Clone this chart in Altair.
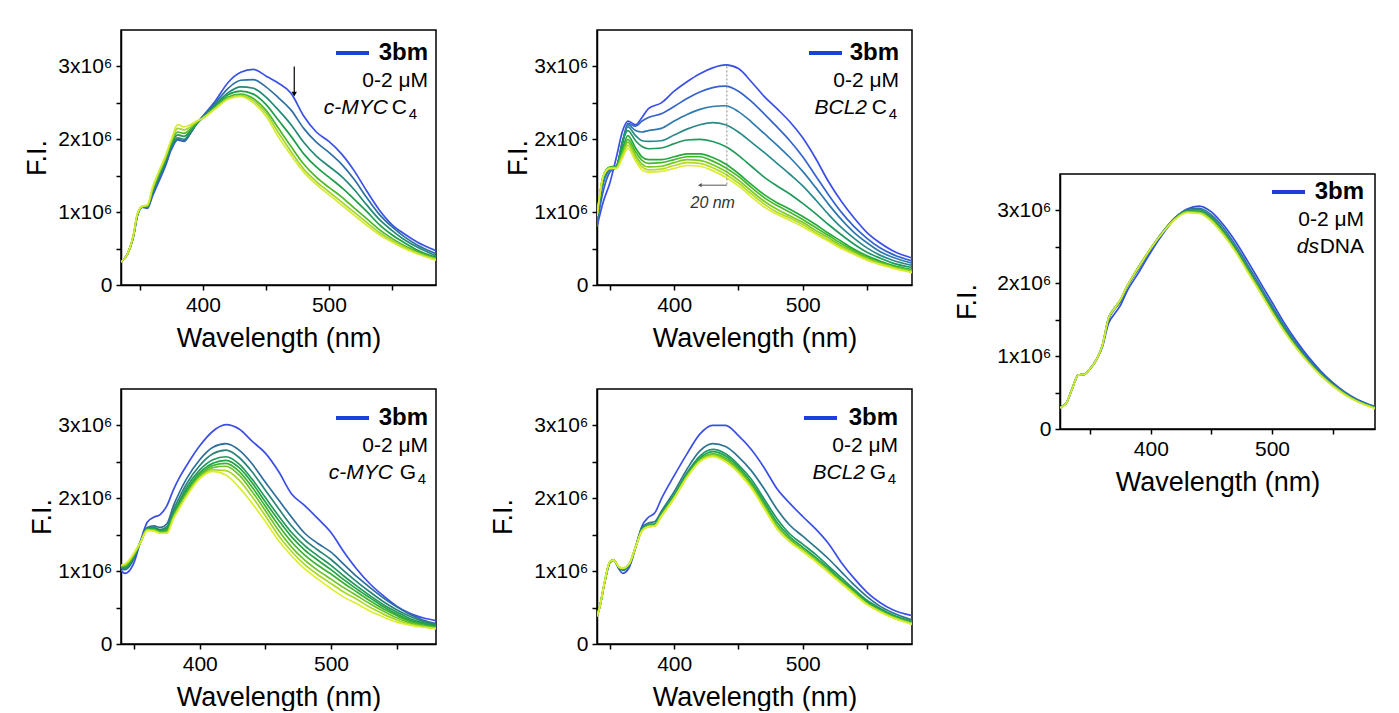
import altair as alt
import pandas as pd

FONT = "Liberation Sans"

# ---------------- data (F.I. in units of 1e6) ----------------
wl_myc_c4 = [335, 340, 345, 348, 352, 356, 360, 365, 370, 375, 380, 385, 390, 395, 400, 410, 420, 430,
             440, 450, 460, 470, 480, 490, 500, 510, 520, 530, 540, 550, 560, 570, 585]
myc_c4_1 = [0.32, 0.42, 0.68, 0.95, 1.07, 1.05, 1.22, 1.42, 1.62, 1.86, 1.99, 1.97, 2.08, 2.22, 2.32, 2.53, 2.78, 2.92,
            2.96, 2.87, 2.77, 2.63, 2.32, 2.10, 1.97, 1.80, 1.57, 1.29, 1.03, 0.83, 0.70, 0.59, 0.47]
myc_c4_2 = [0.32, 0.42, 0.68, 0.95, 1.07, 1.06, 1.25, 1.45, 1.65, 1.88, 2.00, 1.98, 2.08, 2.21, 2.31, 2.50, 2.70, 2.81,
            2.82, 2.72, 2.57, 2.40, 2.15, 1.96, 1.82, 1.66, 1.45, 1.20, 0.97, 0.80, 0.66, 0.55, 0.43]
myc_c4_3 = [0.32, 0.42, 0.68, 0.96, 1.07, 1.07, 1.27, 1.48, 1.68, 1.91, 2.02, 2.00, 2.09, 2.21, 2.30, 2.48, 2.64, 2.72,
            2.70, 2.58, 2.40, 2.20, 1.96, 1.77, 1.63, 1.49, 1.31, 1.10, 0.90, 0.75, 0.62, 0.52, 0.40]
myc_c4_4 = [0.32, 0.42, 0.69, 0.96, 1.07, 1.08, 1.29, 1.50, 1.70, 1.93, 2.06, 2.04, 2.11, 2.22, 2.30, 2.46, 2.61, 2.66,
            2.62, 2.48, 2.26, 2.04, 1.80, 1.62, 1.48, 1.34, 1.18, 1.01, 0.83, 0.69, 0.58, 0.48, 0.38]
myc_c4_5 = [0.32, 0.42, 0.69, 0.97, 1.08, 1.09, 1.31, 1.52, 1.72, 1.96, 2.10, 2.08, 2.14, 2.23, 2.29, 2.44, 2.58, 2.62,
            2.56, 2.40, 2.15, 1.90, 1.66, 1.48, 1.34, 1.21, 1.06, 0.91, 0.76, 0.64, 0.54, 0.46, 0.36]
myc_c4_6 = [0.32, 0.42, 0.70, 0.97, 1.08, 1.09, 1.32, 1.54, 1.74, 1.98, 2.15, 2.13, 2.17, 2.24, 2.29, 2.43, 2.56, 2.60,
            2.53, 2.36, 2.09, 1.83, 1.59, 1.42, 1.28, 1.14, 1.00, 0.86, 0.72, 0.61, 0.52, 0.44, 0.35]
myc_c4_7 = [0.32, 0.42, 0.70, 0.98, 1.08, 1.10, 1.34, 1.56, 1.76, 2.00, 2.20, 2.17, 2.20, 2.25, 2.29, 2.42, 2.55, 2.59,
            2.50, 2.32, 2.03, 1.78, 1.55, 1.38, 1.24, 1.10, 0.96, 0.82, 0.69, 0.59, 0.50, 0.43, 0.34]

wl_bcl_c4 = [340, 345, 350, 355, 360, 364, 370, 375, 380, 390, 400, 410, 420, 430, 440, 450, 460, 470, 480, 490,
             500, 510, 520, 530, 540, 550, 560, 570, 585]
bcl_c4_1 = [0.80, 1.15, 1.40, 1.75, 2.12, 2.25, 2.20, 2.30, 2.42, 2.50, 2.66, 2.79, 2.90, 2.98, 3.02, 2.97, 2.79, 2.59,
            2.42, 2.24, 2.02, 1.74, 1.42, 1.15, 0.92, 0.72, 0.58, 0.47, 0.37]
bcl_c4_2 = [0.85, 1.30, 1.55, 1.62, 1.95, 2.22, 2.18, 2.25, 2.30, 2.35, 2.45, 2.56, 2.65, 2.71, 2.73, 2.66, 2.52, 2.35,
            2.17, 1.98, 1.76, 1.50, 1.24, 1.00, 0.80, 0.64, 0.51, 0.42, 0.33]
bcl_c4_3 = [0.88, 1.40, 1.58, 1.62, 1.98, 2.20, 2.12, 2.10, 2.12, 2.15, 2.25, 2.34, 2.41, 2.45, 2.46, 2.38, 2.24, 2.08,
            1.92, 1.75, 1.56, 1.34, 1.11, 0.90, 0.72, 0.58, 0.46, 0.38, 0.30]
bcl_c4_4 = [0.90, 1.45, 1.60, 1.63, 1.98, 2.17, 2.05, 1.98, 1.97, 1.98, 2.06, 2.14, 2.20, 2.23, 2.20, 2.10, 1.96, 1.82,
            1.67, 1.52, 1.36, 1.17, 0.97, 0.79, 0.64, 0.51, 0.41, 0.34, 0.27]
bcl_c4_5 = [0.92, 1.50, 1.62, 1.63, 1.98, 2.12, 1.98, 1.90, 1.87, 1.88, 1.94, 1.99, 2.00, 1.97, 1.90, 1.78, 1.63, 1.48,
            1.36, 1.25, 1.12, 0.98, 0.83, 0.69, 0.56, 0.45, 0.37, 0.30, 0.24]
bcl_c4_6 = [0.93, 1.50, 1.62, 1.63, 1.88, 2.05, 1.88, 1.76, 1.72, 1.72, 1.76, 1.80, 1.80, 1.75, 1.66, 1.53, 1.38, 1.24,
            1.13, 1.04, 0.94, 0.83, 0.71, 0.60, 0.49, 0.40, 0.33, 0.27, 0.21]
bcl_c4_7 = [0.94, 1.50, 1.61, 1.62, 1.84, 2.00, 1.83, 1.71, 1.67, 1.68, 1.72, 1.76, 1.76, 1.70, 1.61, 1.49, 1.34, 1.20,
            1.09, 1.00, 0.90, 0.79, 0.68, 0.57, 0.47, 0.38, 0.31, 0.26, 0.20]
bcl_c4_8 = [0.94, 1.50, 1.61, 1.61, 1.81, 1.96, 1.78, 1.66, 1.62, 1.63, 1.68, 1.72, 1.71, 1.65, 1.56, 1.44, 1.29, 1.15,
            1.04, 0.95, 0.86, 0.75, 0.65, 0.54, 0.45, 0.37, 0.30, 0.25, 0.19]
bcl_c4_9 = [0.95, 1.50, 1.60, 1.60, 1.78, 1.92, 1.74, 1.62, 1.58, 1.59, 1.64, 1.68, 1.67, 1.61, 1.52, 1.40, 1.25, 1.11,
            1.00, 0.92, 0.83, 0.72, 0.62, 0.52, 0.43, 0.35, 0.29, 0.24, 0.18]
bcl_c4_10 = [0.95, 1.50, 1.60, 1.60, 1.75, 1.88, 1.70, 1.58, 1.55, 1.56, 1.60, 1.64, 1.63, 1.57, 1.48, 1.36, 1.21, 1.07,
             0.97, 0.89, 0.80, 0.70, 0.60, 0.50, 0.42, 0.34, 0.28, 0.23, 0.17]

wl_ds = [325, 330, 335, 340, 345, 350, 355, 360, 365, 370, 375, 380, 390, 400, 410, 420, 430, 440, 450, 460,
         470, 480, 490, 500, 510, 520, 530, 540, 550, 560, 570, 585]
ds_1 = [0.30, 0.35, 0.55, 0.74, 0.75, 0.83, 0.95, 1.13, 1.45, 1.58, 1.70, 1.88, 2.15, 2.43, 2.68, 2.89, 3.02, 3.06,
        2.98, 2.80, 2.57, 2.30, 2.02, 1.74, 1.46, 1.21, 0.99, 0.80, 0.64, 0.51, 0.41, 0.31]
ds_2 = [0.30, 0.35, 0.55, 0.74, 0.75, 0.83, 0.95, 1.14, 1.50, 1.64, 1.75, 1.93, 2.20, 2.46, 2.70, 2.90, 3.01, 3.03,
        2.94, 2.76, 2.52, 2.25, 1.97, 1.69, 1.42, 1.18, 0.96, 0.78, 0.63, 0.50, 0.40, 0.30]
ds_3 = [0.30, 0.35, 0.55, 0.74, 0.75, 0.83, 0.95, 1.15, 1.52, 1.66, 1.77, 1.95, 2.22, 2.48, 2.71, 2.90, 3.00, 3.01,
        2.91, 2.72, 2.48, 2.21, 1.93, 1.66, 1.39, 1.15, 0.94, 0.76, 0.61, 0.49, 0.39, 0.30]
ds_4 = [0.30, 0.35, 0.55, 0.74, 0.75, 0.83, 0.95, 1.15, 1.52, 1.66, 1.78, 1.95, 2.23, 2.48, 2.71, 2.89, 2.99, 2.99,
        2.89, 2.70, 2.46, 2.19, 1.91, 1.63, 1.37, 1.13, 0.93, 0.75, 0.60, 0.48, 0.39, 0.29]
ds_5 = [0.29, 0.35, 0.55, 0.74, 0.75, 0.83, 0.95, 1.15, 1.52, 1.66, 1.78, 1.95, 2.23, 2.48, 2.70, 2.88, 2.98, 2.97,
        2.87, 2.68, 2.44, 2.17, 1.89, 1.61, 1.35, 1.12, 0.92, 0.74, 0.60, 0.48, 0.38, 0.29]
ds_6 = [0.29, 0.35, 0.55, 0.74, 0.75, 0.83, 0.95, 1.15, 1.52, 1.65, 1.78, 1.95, 2.22, 2.48, 2.70, 2.88, 2.97, 2.96,
        2.85, 2.66, 2.43, 2.15, 1.88, 1.60, 1.34, 1.11, 0.91, 0.74, 0.59, 0.47, 0.38, 0.28]

wl_myc_g4 = [340, 343, 347, 350, 355, 360, 365, 370, 375, 380, 385, 390, 400, 410, 420, 430, 440, 450, 460, 470,
             480, 490, 500, 510, 520, 530, 540, 550, 560, 570, 580]
myc_g4_1 = [1.01, 0.97, 1.02, 1.12, 1.42, 1.67, 1.74, 1.78, 1.90, 2.12, 2.30, 2.45, 2.72, 2.92, 3.01, 2.95, 2.78, 2.62,
            2.37, 2.06, 1.90, 1.72, 1.53, 1.26, 1.02, 0.82, 0.66, 0.52, 0.42, 0.36, 0.32]
myc_g4_2 = [1.04, 1.02, 1.08, 1.18, 1.41, 1.60, 1.62, 1.60, 1.65, 1.90, 2.10, 2.27, 2.53, 2.70, 2.75, 2.66, 2.47, 2.22,
            1.98, 1.74, 1.52, 1.38, 1.26, 1.09, 0.92, 0.77, 0.63, 0.51, 0.41, 0.33, 0.28]
myc_g4_3 = [1.05, 1.04, 1.10, 1.20, 1.41, 1.59, 1.60, 1.57, 1.61, 1.84, 2.03, 2.20, 2.45, 2.61, 2.66, 2.56, 2.36, 2.11,
            1.86, 1.62, 1.43, 1.29, 1.16, 1.00, 0.85, 0.71, 0.58, 0.47, 0.38, 0.31, 0.26]
myc_g4_4 = [1.06, 1.05, 1.12, 1.21, 1.41, 1.58, 1.59, 1.56, 1.59, 1.80, 1.98, 2.15, 2.39, 2.53, 2.57, 2.47, 2.26, 2.01,
            1.76, 1.53, 1.35, 1.21, 1.08, 0.93, 0.79, 0.66, 0.54, 0.44, 0.35, 0.29, 0.25]
myc_g4_5 = [1.06, 1.06, 1.13, 1.22, 1.40, 1.58, 1.58, 1.55, 1.57, 1.78, 1.95, 2.11, 2.35, 2.48, 2.52, 2.42, 2.21, 1.95,
            1.70, 1.47, 1.29, 1.15, 1.02, 0.88, 0.75, 0.63, 0.51, 0.41, 0.33, 0.28, 0.24]
myc_g4_6 = [1.07, 1.07, 1.14, 1.23, 1.40, 1.57, 1.57, 1.54, 1.56, 1.76, 1.93, 2.08, 2.32, 2.45, 2.48, 2.37, 2.15, 1.89,
            1.63, 1.40, 1.22, 1.08, 0.96, 0.83, 0.71, 0.59, 0.48, 0.39, 0.31, 0.26, 0.23]
myc_g4_7 = [1.07, 1.08, 1.15, 1.24, 1.40, 1.57, 1.56, 1.53, 1.54, 1.75, 1.91, 2.06, 2.30, 2.42, 2.44, 2.32, 2.09, 1.83,
            1.56, 1.33, 1.15, 1.01, 0.89, 0.77, 0.66, 0.55, 0.45, 0.36, 0.29, 0.25, 0.22]
myc_g4_8 = [1.08, 1.09, 1.16, 1.24, 1.40, 1.56, 1.56, 1.52, 1.53, 1.73, 1.89, 2.04, 2.28, 2.39, 2.38, 2.25, 2.02, 1.76,
            1.49, 1.27, 1.09, 0.95, 0.83, 0.71, 0.61, 0.50, 0.41, 0.33, 0.27, 0.24, 0.21]
myc_g4_9 = [1.08, 1.10, 1.17, 1.25, 1.40, 1.56, 1.55, 1.52, 1.52, 1.72, 1.88, 2.03, 2.27, 2.37, 2.32, 2.15, 1.93, 1.68,
            1.42, 1.21, 1.03, 0.89, 0.76, 0.64, 0.55, 0.45, 0.37, 0.30, 0.26, 0.23, 0.21]

wl_bcl_g4 = [340, 342, 346, 350, 353, 357, 360, 365, 370, 375, 380, 385, 390, 400, 410, 420, 430, 440, 450, 460,
             470, 480, 490, 500, 510, 520, 530, 540, 550, 560, 570, 585]
bcl_g4_1 = [0.38, 0.50, 0.85, 1.12, 1.15, 1.03, 0.97, 1.05, 1.32, 1.62, 1.74, 1.80, 1.99, 2.31, 2.61, 2.88, 3.00, 3.00,
            2.86, 2.67, 2.42, 2.13, 1.93, 1.75, 1.58, 1.38, 1.12, 0.90, 0.71, 0.57, 0.47, 0.39]
bcl_g4_2 = [0.38, 0.50, 0.85, 1.12, 1.15, 1.05, 1.01, 1.08, 1.33, 1.60, 1.66, 1.68, 1.82, 2.09, 2.40, 2.65, 2.75, 2.71,
            2.57, 2.38, 2.13, 1.85, 1.63, 1.48, 1.33, 1.17, 0.99, 0.81, 0.65, 0.52, 0.43, 0.33]
bcl_g4_3 = [0.38, 0.50, 0.85, 1.12, 1.15, 1.05, 1.02, 1.09, 1.33, 1.58, 1.64, 1.65, 1.79, 2.05, 2.35, 2.58, 2.67, 2.61,
            2.46, 2.26, 1.99, 1.72, 1.51, 1.37, 1.23, 1.07, 0.91, 0.75, 0.60, 0.49, 0.40, 0.31]
bcl_g4_4 = [0.38, 0.50, 0.85, 1.12, 1.15, 1.05, 1.03, 1.09, 1.33, 1.57, 1.63, 1.64, 1.78, 2.03, 2.33, 2.55, 2.64, 2.58,
            2.43, 2.22, 1.95, 1.67, 1.47, 1.33, 1.19, 1.04, 0.88, 0.73, 0.58, 0.47, 0.39, 0.30]
bcl_g4_5 = [0.38, 0.50, 0.86, 1.13, 1.15, 1.05, 1.03, 1.10, 1.33, 1.56, 1.62, 1.63, 1.77, 2.02, 2.31, 2.53, 2.61, 2.55,
            2.40, 2.19, 1.91, 1.63, 1.44, 1.30, 1.16, 1.01, 0.86, 0.71, 0.56, 0.46, 0.38, 0.29]
bcl_g4_6 = [0.38, 0.50, 0.86, 1.13, 1.15, 1.06, 1.04, 1.10, 1.33, 1.56, 1.62, 1.63, 1.76, 2.01, 2.30, 2.52, 2.60, 2.53,
            2.38, 2.17, 1.89, 1.61, 1.42, 1.29, 1.15, 1.00, 0.85, 0.70, 0.55, 0.45, 0.37, 0.28]
bcl_g4_7 = [0.38, 0.50, 0.86, 1.13, 1.15, 1.06, 1.04, 1.10, 1.33, 1.55, 1.61, 1.62, 1.75, 2.00, 2.29, 2.51, 2.58, 2.51,
            2.36, 2.15, 1.87, 1.59, 1.41, 1.28, 1.14, 0.99, 0.84, 0.69, 0.55, 0.45, 0.36, 0.28]
bcl_g4_8 = [0.38, 0.50, 0.86, 1.13, 1.15, 1.06, 1.04, 1.10, 1.33, 1.55, 1.61, 1.62, 1.75, 2.00, 2.29, 2.50, 2.57, 2.50,
            2.35, 2.14, 1.86, 1.58, 1.40, 1.27, 1.13, 0.98, 0.83, 0.68, 0.54, 0.44, 0.36, 0.27]

x_ticks = [350, 400, 450, 500, 550]
y_ticks = [0, 0.5, 1, 1.5, 2, 2.5, 3]

# ---------------- styling ----------------
W, H = 315, 255
LEGEND_BLUE = "#1f3fdc"

col_myc_c4 = ["#3a52e6", "#2f6fa4", "#238a78", "#1f9e4a", "#4ab82a", "#a6d428", "#d6ea34"]
col_bcl_c4 = ["#3b4fe8", "#3563cc", "#2f79ad", "#2a8a8a", "#209a5c", "#24aa3c", "#48b82a", "#7cc826", "#b2dc24", "#dcec34"]
col_ds = ["#2f4fe0", "#2f72a0", "#2a8a78", "#28a04a", "#8acc28", "#d4ea34"]
col_myc_g4 = ["#3b4fe6", "#2e6e9c", "#2a8478", "#24985a", "#22a444", "#3cb230", "#6ac228", "#a8d824", "#dcee30"]
col_bcl_g4 = ["#3b4fe6", "#2e7690", "#22946a", "#22a448", "#44b52e", "#7cc828", "#b4dc26", "#dcee30"]

ONE = pd.DataFrame({"a": [0]})


def build_df(grid, curves):
    rows = []
    for k, c in enumerate(curves):
        for w, v in zip(grid, c):
            rows.append({"wl": w, "fi": v, "k": k})
    return pd.DataFrame(rows)


def txt(s, x, y, size=21, weight="normal", style="normal", align="right", color="black"):
    return alt.Chart(ONE).mark_text(
        text=s, font=FONT, fontSize=size, fontWeight=weight, fontStyle=style,
        align=align, baseline="middle", color=color
    ).encode(x=alt.value(x), y=alt.value(y))


def panel(grid, curves, colors, xdom, ytp, leg, label_parts, extra=None, right_pad=0):
    xs = alt.Scale(domain=xdom, nice=False, zero=False)
    ys = alt.Scale(domain=[0, 3.5], nice=False, zero=True)
    xax = alt.Axis(values=x_ticks, labelExpr="datum.value % 100 == 0 ? datum.label : ''",
                   title="Wavelength (nm)", minExtent=30, maxExtent=30, titlePadding=10)
    yax = alt.Axis(values=y_ticks,
                   labelExpr="datum.value == 0 ? '0' : (datum.value % 1 == 0 ? format(datum.value, 'd') + 'x10\u2076' : '')",
                   title="F.I.", minExtent=56, maxExtent=56, titlePadding=ytp)
    X = alt.X("wl:Q", scale=xs, axis=xax)
    Y = alt.Y("fi:Q", scale=ys, axis=yax)
    df = build_df(grid, curves)
    lines = alt.Chart(df).mark_line(strokeWidth=1.7, interpolate="monotone", clip=True).encode(
        x=X, y=Y,
        color=alt.Color("k:N", scale=alt.Scale(domain=list(range(len(curves))), range=colors), legend=None),
    )
    layers = [lines]
    lx1, lx2, ly, rx, y2 = leg
    layers.append(alt.Chart(ONE).mark_rule(color=LEGEND_BLUE, strokeWidth=4).encode(
        x=alt.value(lx1), x2=alt.value(lx2), y=alt.value(ly)))
    layers.append(txt("3bm", rx, ly, size=24, weight="bold"))
    layers.append(txt("0-2 \u03bcM", rx, y2))
    for (s, x, y, size, style) in label_parts:
        layers.append(txt(s, x, y, size=size, style=style))
    if extra is not None:
        layers += extra(X, Y)
    if right_pad:
        layers.append(alt.Chart(ONE).mark_rule(color="white", strokeWidth=1).encode(
            x=alt.value(W + 3), x2=alt.value(W + right_pad), y=alt.value(H / 2)))
    return alt.layer(*layers).properties(width=W, height=H)


def arrow_myc(X, Y):
    d = pd.DataFrame({"wl": [472.5], "fi": [3.00], "fi2": [2.63]})
    h = pd.DataFrame({"wl": [472.5], "fi": [2.62]})
    return [
        alt.Chart(d).mark_rule(color="black", strokeWidth=1.2).encode(x=X, y=Y, y2="fi2:Q"),
        alt.Chart(h).mark_point(shape="triangle-down", filled=True, size=28, color="black", opacity=1).encode(x=X, y=Y),
    ]


def shift_bcl(X, Y):
    v = pd.DataFrame({"wl": [441], "fi": [3.00], "fi2": [1.37]})
    hz = pd.DataFrame({"wl": [441], "wl2": [421], "fi": [1.37]})
    hd = pd.DataFrame({"wl": [420], "fi": [1.37]})
    tx = pd.DataFrame({"wl": [430], "fi": [1.12], "t": ["20 nm"]})
    return [
        alt.Chart(v).mark_rule(color="#888888", strokeWidth=1, strokeDash=[2, 2]).encode(x=X, y=Y, y2="fi2:Q"),
        alt.Chart(hz).mark_rule(color="#555555", strokeWidth=1).encode(x=X, x2="wl2:Q", y=Y),
        alt.Chart(hd).mark_point(shape="triangle-left", filled=True, size=18, color="#555555", opacity=1).encode(x=X, y=Y),
        alt.Chart(tx).mark_text(font=FONT, fontSize=16, fontStyle="italic", color="#333333").encode(x=X, y=Y, text="t:N"),
    ]


p1 = panel(wl_myc_c4, [myc_c4_1, myc_c4_2, myc_c4_3, myc_c4_4, myc_c4_5, myc_c4_6, myc_c4_7], col_myc_c4,
           [335, 585], 14, (215, 248, 23, 307, 51),
           [("c-MYC", 267, 78, 21, "italic"), ("C", 286, 78, 21, "normal"), ("4", 296, 84, 15, "normal")],
           extra=arrow_myc, right_pad=11)
p2 = panel(wl_bcl_c4, [bcl_c4_1, bcl_c4_2, bcl_c4_3, bcl_c4_4, bcl_c4_5, bcl_c4_6, bcl_c4_7, bcl_c4_8, bcl_c4_9,
                       bcl_c4_10], col_bcl_c4,
           [340, 585], 9, (212, 245, 23, 302, 51),
           [("BCL2", 270, 78, 21, "italic"), ("C", 290, 78, 21, "normal"), ("4", 300, 84, 15, "normal")],
           extra=shift_bcl)
p3 = panel(wl_ds, [ds_1, ds_2, ds_3, ds_4, ds_5, ds_6], col_ds,
           [325, 585], 23, (212, 245, 18, 304, 46),
           [("ds", 259, 73, 21, "italic"), ("DNA", 304, 73, 21, "normal")])
p4 = panel(wl_myc_g4, [myc_g4_1, myc_g4_2, myc_g4_3, myc_g4_4, myc_g4_5, myc_g4_6, myc_g4_7, myc_g4_8, myc_g4_9],
           col_myc_g4, [340, 580], 9, (215, 248, 29, 307, 57),
           [("c-MYC", 272, 84, 21, "italic"), ("G", 295, 84, 21, "normal"), ("4", 305, 90, 15, "normal")])
p5 = panel(wl_bcl_g4, [bcl_g4_1, bcl_g4_2, bcl_g4_3, bcl_g4_4, bcl_g4_5, bcl_g4_6, bcl_g4_7, bcl_g4_8],
           col_bcl_g4, [340, 585], 24, (207, 240, 29, 301, 57),
           [("BCL2", 268, 84, 21, "italic"), ("G", 289, 84, 21, "normal"), ("4", 299, 90, 15, "normal")])

spacer = alt.Chart(ONE).mark_point(opacity=0).encode(x=alt.value(0), y=alt.value(0)).properties(
    width=W, height=137, view=alt.ViewBackground(stroke="white"))

col1 = alt.vconcat(p1, p4, spacing=36).resolve_scale(color="independent")
col2 = alt.vconcat(p2, p5, spacing=36).resolve_scale(color="independent")
col3 = alt.vconcat(spacer, p3, spacing=5).resolve_scale(color="independent")

chart = alt.hconcat(col1, col2, col3, spacing=39).resolve_scale(color="independent").properties(
    padding={"left": 14, "top": 18, "right": 5, "bottom": 0}
).configure(font=FONT).configure_view(
    stroke="black", strokeWidth=1.5
).configure_axis(
    domainColor="black", domainWidth=1.5, tickColor="black", tickWidth=1.5, tickSize=5,
    labelFont=FONT, labelFontSize=21, labelColor="black", labelPadding=4, labelOverlap=False,
    titleFont=FONT, titleFontSize=27, titleFontWeight="normal", titleColor="black", grid=False
)

chart.save("out.html", embed_options={"renderer": "svg", "actions": False})
